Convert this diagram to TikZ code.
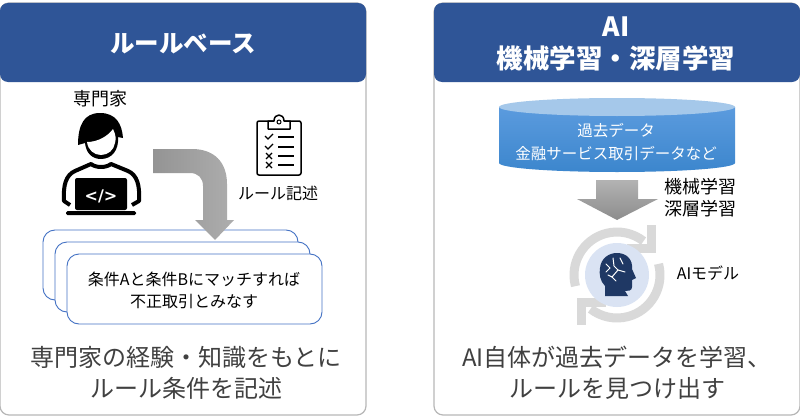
\documentclass[tikz,border=0pt]{standalone}
\usepackage{fontspec}
\setmainfont{Noto Sans CJK JP}
\newfontfamily\iconfont{DejaVu Sans}
\usepackage{tikz}
\usetikzlibrary{positioning}

\definecolor{headblue}{HTML}{2F5597}
\definecolor{panelgray}{HTML}{B7B7B7}
\definecolor{boxblue}{HTML}{4472C4}
\definecolor{ringgray}{HTML}{D9D9D9}
\definecolor{circleblue}{HTML}{DAE3F3}
\definecolor{brainblue}{HTML}{1F3864}
\definecolor{captiongray}{HTML}{404040}
\definecolor{cyltop}{HTML}{A5C8EA}
\definecolor{cylupper}{HTML}{5B9BDE}
\definecolor{cyllower}{HTML}{3C86CD}

\tikzset{
  panel/.style={draw=panelgray,line width=1.2pt,fill=white,rounded corners=9pt},
  header/.style={fill=headblue,rounded corners=8pt},
  headtext/.style={text=white,align=center,font=\bfseries\fontsize{25}{32}\selectfont,inner sep=0pt},
  caption/.style={text=captiongray,align=center,font=\fontsize{24}{31}\selectfont,inner sep=0pt},
  label/.style={text=black,align=center,font=\fontsize{16}{22}\selectfont,inner sep=0pt},
  rulebox/.style={draw=boxblue,line width=0.9pt,fill=white,rounded corners=12pt},
  ring/.style={draw=ringgray,line width=9pt},
  corner/.style={fill=ringgray},
  icon/.style={line width=1.5pt,line cap=round,line join=round},
  brainline/.style={draw=white,line width=1pt,line cap=round}
}

\begin{document}
\begin{tikzpicture}[x=1pt,y=-1pt]
  \useasboundingbox (0,0) rectangle (800,420);

  % two panels with their headers
  \draw[panel] (0,3) rectangle (366,415);
  \draw[panel] (434,3) rectangle (800,415);
  \fill[header] (0,3) rectangle (366,82);
  \fill[header] (434,3) rectangle (800,82);
  \node[headtext,font=\bfseries\fontsize{24.5}{32}\selectfont] (ruletitle) at (183,44) {ルールベース};
  \node[headtext,font=\bfseries\fontsize{26.5}{32}\selectfont] (aititle) at (616,43.5) {AI\\機械学習・深層学習};

  % expert
  \node[label,font=\fontsize{18}{22}\selectfont] (expert) at (100,99) {専門家};
  \fill (78,145) .. controls (78,125) and (84,113) .. (100,113)
    .. controls (116,113) and (122,124) .. (123,138)
    -- (118,137) .. controls (119,150) and (112,159) .. (101,159)
    .. controls (92,159) and (86,153) .. (85,143) -- cycle;
  \fill[white] (87,142) .. controls (98,142) and (108,136) .. (113,129)
    .. controls (116,135) and (116,139) .. (115,143)
    .. controls (114,150) and (108,155) .. (101,155)
    .. controls (94,155) and (88,150) .. (87,142) -- cycle;
  \draw[line width=4pt,line join=round] (70,205) -- (64,201)
    .. controls (63,185) and (66,175) .. (75,171)
    -- (91,164) .. controls (96,168) and (106,168) .. (111,164)
    -- (128,171) .. controls (137,175) and (140,185) .. (139,201) -- (132,205);
  \fill[rounded corners=2pt] (75,178) rectangle (127,210);
  \fill[rounded corners=1.5pt] (66,211) rectangle (136,215);
  \node[text=white,inner sep=0pt,font=\iconfont\bfseries\fontsize{16}{16}\selectfont] (code) at (101,196) {</>};

  % clipboard
  \draw[icon,fill=white,rounded corners=2pt] (257,121) rectangle (301,175);
  \draw[icon,fill=white] (268,129) -- (268,121) -- (274,121)
    .. controls (274,113) and (284,113) .. (284,121) -- (290,121) -- (290,129) -- cycle;
  \draw[line width=1pt] (279,122) circle (2);
  \foreach \y in {137,147,156,165}
    \draw[line width=1.2pt] (278,\y) -- (294,\y);
  \foreach \y in {137,147}
    \draw[line width=1.2pt] (265,\y-1) -- (268,\y+2) -- (273,\y-3);
  \foreach \y in {156,165}
    \draw[line width=1.2pt] (266,\y-3) -- (272,\y+3) (272,\y-3) -- (266,\y+3);
  \node[label] (rulewrite) at (278,193) {ルール記述};

  % stacked rule cards
  \draw[rulebox] (43,230) rectangle (298,300);
  \draw[rulebox] (55,242) rectangle (310,312);
  \draw[rulebox] (67,254) rectangle (322,324);
  \node[label] (cond) at (194,290) {条件Aと条件Bにマッチすれば\\不正取引とみなす};

  % bent arrow
  \path[left color=black!42,right color=black!32]
    (153,149) -- (192,149) .. controls (214,149) and (227,162) .. (227,184)
    -- (227,220) -- (234,220) -- (215,240) -- (195,220) -- (203,220) -- (203,186)
    .. controls (203,178) and (198,173) .. (190,173) -- (153,173) -- cycle;

  \node[caption] (rulecap) at (186,373) {専門家の経験・知識をもとに\\ルール条件を記述};

  % past data cylinder
  \path[top color=cylupper,bottom color=cyllower]
    (499,107) -- (499,163) arc[start angle=180,delta angle=-180,x radius=118,y radius=9]
    -- (735,107) -- cycle;
  \fill[cyltop] (617,107) ellipse[x radius=118,y radius=9];
  \node[label,text=white,font=\fontsize{15.5}{23}\selectfont] (pastdata) at (616,142) {過去データ\\金融サービス取引データなど};

  % learning arrow
  \path[top color=black!30,bottom color=black!45]
    (596,180) -- (638,180) -- (638,199) -- (658,199) -- (617,220) -- (577,199) -- (596,199) -- cycle;
  \node[label,font=\fontsize{18}{22}\selectfont] (learning) at (700,198) {機械学習\\深層学習};

  % AI model
  \draw[ring] (617,275) ++(165:43) arc[start angle=165,end angle=308,radius=43];
  \draw[ring] (617,275) ++(-15:43) arc[start angle=-15,end angle=128,radius=43];
  \fill[corner] (656,253) -- (647,253) -- (647,225) -- (656,225) -- cycle;
  \fill[corner] (656,253) -- (627,253) -- (627,244) -- (656,244) -- cycle;
  \fill[corner] (577,298) -- (586,298) -- (586,325) -- (577,325) -- cycle;
  \fill[corner] (577,298) -- (606,298) -- (606,307) -- (577,307) -- cycle;
  \fill[circleblue] (617,275) circle (32);
  \fill[brainblue] (605,296) -- (605,286) .. controls (600,281) and (599,274) .. (600,268)
    .. controls (601,258) and (609,253) .. (617,253)
    .. controls (627,253) and (633,260) .. (632,269)
    -- (636,278) -- (632,280) -- (632,287) .. controls (632,291) and (628,291) .. (625,291)
    -- (628,296) -- cycle;
  \draw[brainline] (606,264) -- (610,268) -- (606,272);
  \draw[brainline] (613,258) -- (614,266) -- (618,270) -- (612,277) -- (608,275);
  \draw[brainline] (620,258) -- (623,264);
  \draw[brainline] (616,281) -- (612,277);
  \draw[brainline] (625,272) -- (618,270);
  \node[label] (aimodel) at (708,273) {AIモデル};

  \node[caption] (aicap) at (617,373) {AI自体が過去データを学習、\\ルールを見つけ出す};
\end{tikzpicture}
\end{document}
